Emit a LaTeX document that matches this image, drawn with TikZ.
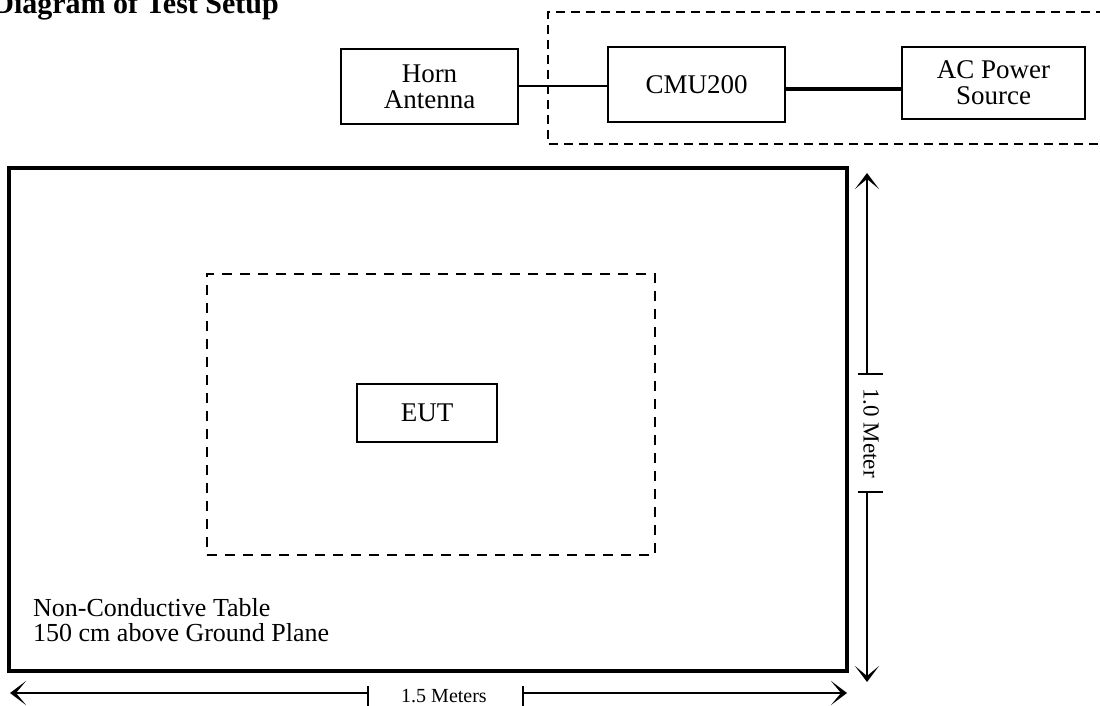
\documentclass[tikz,border=0pt]{standalone}
\usepackage{fontspec}
\setmainfont{Liberation Serif}
\usetikzlibrary{arrows.meta}
\begin{document}
\begin{tikzpicture}[x=1pt,y=-1pt,
  box/.style={draw,line width=2pt,inner sep=0pt,align=center,font=\fontsize{27}{26}\selectfont},
  dashbox/.style={draw,line width=2.2pt,dash pattern=on 10pt off 8pt,inner sep=0pt},
  dimline/.style={line width=1.4pt},
  dimtip/.style={-{Stealth[length=16pt,width=24pt,inset=10pt]}},
  dimlabel/.style={font=\fontsize{20}{22}\selectfont,inner sep=0pt},
  label/.style={font=\fontsize{26}{25}\selectfont,inner sep=0pt,align=left}]
\useasboundingbox (0,0) rectangle (1100,706);
% title
\node[font=\bfseries\fontsize{30}{30}\selectfont,anchor=base east,inner sep=0pt] (title) at (279,14) {Diagram of Test Setup};
% outer dashed enclosure
\draw[line width=2.2pt,dash pattern=on 9pt off 6pt] (1120,12) -- (548,12) -- (548,144) -- (1120,144);
% top row boxes
\node[box,minimum width=177pt,minimum height=75pt] (horn) at (429.5,86.5) {Horn\\Antenna};
\node[box,minimum width=177pt,minimum height=75pt] (cmu) at (696.5,84.5) {CMU200};
\node[box,minimum width=183pt,minimum height=72pt] (ac) at (993.5,83) {AC Power\\Source};
\draw[line width=2pt] (horn.east) -- (horn.east -| cmu.west);
\draw[line width=3.8pt] ([yshift=-4.5pt]cmu.east) -- ([yshift=-4.5pt]cmu.east -| ac.west);
% table
\node[draw,line width=3.8pt,minimum width=838pt,minimum height=503pt,inner sep=0pt] (table) at (428,419.5) {};
\node[dashbox,minimum width=448pt,minimum height=281pt] (zone) at (431,414.5) {};
\node[box,minimum width=140pt,minimum height=58pt] (eut) at (427,413) {EUT};
\node[label,anchor=base west] (tlabel) at (33,641) {Non-Conductive Table\\150 cm above Ground Plane};
% vertical dimension
\coordinate (vtop) at (867,173);
\coordinate (vbot) at (867,682);
\coordinate (vt1) at (867,374);
\coordinate (vt2) at (867,492);
\draw[dimline,dimtip] (vt1) -- (vtop);
\draw[dimline,dimtip] (vt2) -- (vbot);
\draw[dimline] ([xshift=-9pt]vt1) -- ([xshift=16pt]vt1);
\draw[dimline] ([xshift=-9pt]vt2) -- ([xshift=16pt]vt2);
\node[dimlabel,font=\fontsize{23}{24}\selectfont,rotate=-90] (vlab) at (871,433) {1.0 Meter};
% horizontal dimension
\coordinate (hl) at (10,693);
\coordinate (hr) at (847,693);
\coordinate (ht1) at (368,693);
\coordinate (ht2) at (523,693);
\draw[dimline,dimtip] (ht1) -- (hl);
\draw[dimline,dimtip] (ht2) -- (hr);
\draw[dimline] ([yshift=7pt]ht1) -- ([yshift=-13pt]ht1);
\draw[dimline] ([yshift=7pt]ht2) -- ([yshift=-13pt]ht2);
\node[dimlabel,anchor=base] (hlab) at (444,702) {1.5 Meters};
\end{tikzpicture}
\end{document}
